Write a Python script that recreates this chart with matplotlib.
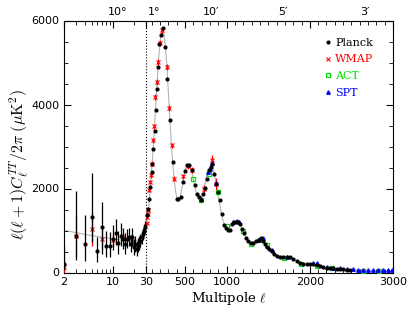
import numpy as np
import matplotlib
matplotlib.use("Agg")
import matplotlib.pyplot as plt
from matplotlib.lines import Line2D
import matplotlib.transforms as mtransforms

plt.rcParams['mathtext.fontset'] = 'cm'
plt.rcParams['font.family'] = ['DejaVu Sans']

# --- best-fit curve ---
theory_l = [2, 3, 4, 6, 8, 10, 15, 20, 25, 30, 40, 50, 60, 70, 80, 90, 100, 120, 140, 160,
            180, 200, 210, 220, 230, 240, 260, 280, 300, 320, 340, 360, 380, 400, 420, 440,
            460, 480, 500, 520, 540, 560, 580, 600, 620, 640, 660, 680, 700, 720, 740, 760,
            780, 800, 820, 840, 860, 880, 900, 920, 940, 960, 980, 1000, 1020, 1040, 1060,
            1080, 1100, 1120, 1140, 1160, 1180, 1200, 1220, 1240, 1260, 1280, 1300, 1320,
            1340, 1360, 1380, 1400, 1420, 1440, 1460, 1480, 1500, 1520, 1540, 1560, 1580,
            1600, 1640, 1680, 1720, 1760, 1800, 1840, 1880, 1920, 1960, 2000, 2040, 2080,
            2120, 2160, 2200, 2250, 2300, 2350, 2400, 2450, 2500, 2600, 2700, 2800, 2900, 3000]
theory_d = [1000, 950, 905, 860, 826, 800, 762, 740, 790, 960, 1200, 1350, 1520, 1720, 1960,
            2220, 2500, 3050, 3750, 4400, 5050, 5500, 5680, 5780, 5800, 5740, 5450, 4950, 4250,
            3550, 2900, 2400, 2000, 1780, 1710, 1790, 2000, 2250, 2450, 2560, 2580, 2520, 2400,
            2210, 2020, 1860, 1760, 1720, 1780, 1930, 2120, 2300, 2440, 2530, 2560, 2450, 2250,
            2030, 1800, 1580, 1380, 1200, 1090, 1040, 1040, 1070, 1130, 1180, 1200, 1210, 1190,
            1140, 1060, 960, 870, 790, 740, 710, 700, 705, 730, 765, 790, 800, 795, 765, 710,
            640, 580, 520, 470, 430, 400, 385, 370, 370, 365, 355, 325, 280, 235, 210, 200,
            198, 190, 175, 150, 128, 115, 105, 95, 85, 78, 70, 62, 52, 44, 38, 33, 30]

# --- Planck, low multipoles ---
planck_lo_l = [2, 3, 4, 5, 6, 7, 8, 9, 10, 11, 12, 13, 14, 15, 16, 17, 18, 19, 20, 21, 22,
               23, 24, 25, 26, 27, 28, 29]
planck_lo_d = [200, 860, 680, 1330, 510, 1080, 620, 620, 800, 950, 700, 880, 790, 680, 800,
               840, 680, 850, 600, 670, 560, 640, 700, 760, 840, 920, 1000, 1080]
planck_lo_dn = [150, 570, 400, 600, 250, 630, 250, 260, 260, 300, 250, 260, 240, 230, 220,
                220, 200, 210, 180, 180, 170, 160, 160, 150, 150, 140, 140, 130]
planck_lo_up = [450, 1090, 680, 1040, 330, 610, 360, 350, 320, 330, 300, 290, 260, 250, 240,
                230, 220, 220, 200, 190, 180, 170, 170, 160, 160, 150, 150, 140]

# --- Planck, binned high multipoles ---
planck_hi_l = [46, 58, 70, 82, 98, 106, 118, 134, 146, 162, 170, 186, 210, 230, 262, 287,
               319, 359, 399, 419, 447, 471, 495, 527, 551, 579, 615, 639, 663, 687, 711,
               735, 759, 783, 807, 827, 847, 871, 895, 919, 944, 968, 992, 1016, 1040, 1064,
               1088, 1112, 1136, 1160, 1184, 1208, 1232, 1260, 1288, 1320, 1352, 1384, 1416,
               1440, 1465, 1489, 1513, 1541, 1569, 1601, 1641, 1681, 1721, 1761, 1801, 1841,
               1881, 1921, 1962, 2001, 2041, 2081, 2122, 2162, 2202, 2242, 2282, 2322, 2362,
               2402, 2442, 2482]
planck_hi_d = [1360, 1520, 1755, 2030, 2390, 2590, 2950, 3380, 3860, 4375, 4890, 5450, 5645,
               5830, 5370, 4610, 3620, 2630, 1755, 1740, 1794, 2152, 2414, 2549, 2549, 2445,
               2072, 1874, 1794, 1731, 1874, 2017, 2231, 2430, 2509, 2588, 2350, 2112, 1913,
               1715, 1397, 1120, 1064, 1016, 1016, 1143, 1191, 1207, 1207, 1143, 1040, 937,
               826, 746, 699, 699, 746, 778, 810, 746, 683, 619, 556, 508, 429, 381, 365, 365,
               365, 365, 326, 270, 222, 206, 206, 206, 191, 175, 143, 127, 119, 111, 103, 95,
               87, 79, 71, 64]

# --- WMAP ---
wmap_l = [2, 3, 5, 7, 10, 14, 19, 23, 40, 46, 50, 55, 62, 78, 90, 98, 114, 126, 138, 158,
          174, 194, 222, 283, 311, 339, 367, 479, 531, 579, 727, 827, 871]
wmap_d = [120, 860, 1040, 800, 780, 840, 760, 640, 1170, 1320, 1400, 1500, 1953, 2152, 2310,
          2588, 3144, 3478, 4176, 4534, 5010, 5463, 5764, 4891, 3922, 3025, 2231, 2287, 2525,
          2445, 1993, 2668, 2112]
wmap_err = [120, 500, 400, 250, 150, 120, 100, 90, 40, 40, 40, 40, 45, 45, 50, 55, 60, 60, 65,
            70, 75, 80, 85, 80, 70, 60, 55, 55, 60, 70, 90, 130, 140]

# --- ACT ---
act_l = [591, 687, 791, 895, 1000, 1192, 1288, 1400, 1489, 1689, 1889, 2089, 2262, 2643, 2835]
act_d = [2231, 1715, 2350, 1913, 1096, 1000, 683, 762, 643, 349, 206, 159, 111, 24, 24]

# --- SPT ---
spt_l = [687, 775, 799, 827, 871, 1080, 1120, 1148, 1380, 1432, 1541, 1729, 2033, 2081, 2202,
         2282, 2362, 2442, 2522, 2582, 2642, 2702, 2762, 2823, 2883, 2943, 2983]
spt_d = [1755, 2390, 2469, 2604, 2136, 1199, 1223, 1199, 778, 826, 524, 365, 222, 222, 127,
         111, 103, 87, 79, 71, 71, 64, 60, 56, 56, 56, 56]

xticks = [2, 10, 30, 500, 1000, 2000, 3000]
top_pos = [11.9, 126, 811, 1677, 2662]
top_labels = ['10°', '1°', '10′', '5′', '3′']

# hybrid axis: log for l<30, linear above
A = 82 / 329.0

def fwd(x):
    x = np.asarray(x, float)
    lo = np.log10(np.clip(x, 1e-6, None) / 2) / np.log10(15) * A
    hi = A + (x - 30) / 2970.0 * (1 - A)
    return np.where(x < 30, lo, hi)

def inv(y):
    y = np.asarray(y, float)
    lo = 2 * 15 ** (np.clip(y, -5, A) / A)
    hi = 30 + (y - A) / (1 - A) * 2970.0
    return np.where(y < A, lo, hi)

fig = plt.figure(figsize=(4.15, 3.24), dpi=100)
ax = fig.add_axes([64 / 415, 51.5 / 324, 329 / 415, 252 / 324])
ax.set_xscale('function', functions=(fwd, inv))

ax.plot(theory_l, theory_d, color='0.7', lw=0.8, zorder=1)
ax.axvline(30, color='k', ls=':', lw=0.8, zorder=1)

ax.errorbar(wmap_l, wmap_d, yerr=wmap_err, fmt='x', color='red', ms=3, mew=0.8,
            elinewidth=0.9, capsize=0, zorder=3)
ax.errorbar(planck_lo_l, planck_lo_d, yerr=[planck_lo_dn, planck_lo_up], fmt='o', color='k',
            ms=2, elinewidth=0.9, capsize=0, zorder=4)
ax.plot(planck_hi_l, planck_hi_d, 'o', color='k', ms=2, zorder=4)
ax.plot(act_l, act_d, 's', mfc='none', mec='#00e000', ms=3, mew=0.9, zorder=3)
ax.plot(spt_l, spt_d, '^', color='blue', ms=2.5, zorder=3)

ax.set_xlim(2, 3000)
ax.set_ylim(0, 6000)
ax.set_xticks(xticks)
ax.set_xticklabels([str(t) for t in xticks])
minor = [3, 4, 5, 6, 7, 8, 9, 20] + [m for m in range(100, 3000, 100) if m not in xticks]
ax.set_xticks(minor, minor=True)
ax.set_yticks([0, 2000, 4000, 6000])
ax.set_yticks(np.arange(0, 6001, 500), minor=True)
ax.tick_params(which='both', direction='in', top=True, right=True, labelsize=8)
ax.tick_params(which='major', length=5)
ax.tick_params(which='minor', length=3)
for s in ax.spines.values():
    s.set_linewidth(0.8)

trans = mtransforms.blended_transform_factory(ax.transData, ax.transAxes)
for p, s in zip(top_pos, top_labels):
    ax.text(p, 1.015, s, transform=trans, ha='center', va='bottom', fontsize=8)

ax.set_xlabel(r'Multipole $\ell$', family='DejaVu Serif', fontsize=9.5, labelpad=2)
ax.set_ylabel(r'$\ell(\ell+1)C_\ell^{TT}/2\pi\ (\mu{\rm K}^2)$', fontsize=11.5)
ax.yaxis.set_label_coords(-0.1, 0.43)

handles = [
    Line2D([], [], ls='none', marker='o', color='k', ms=2, label='Planck'),
    Line2D([], [], ls='none', marker='x', color='red', ms=3, mew=0.8, label='WMAP'),
    Line2D([], [], ls='none', marker='s', mfc='none', mec='#00e000', color='#00e000', ms=3,
           mew=0.9, label='ACT'),
    Line2D([], [], ls='none', marker='^', color='blue', ms=2.5, label='SPT'),
]
leg = ax.legend(handles=handles, loc='upper left', bbox_to_anchor=(0.78, 0.95),
                frameon=False, handlelength=0.6, handletextpad=0.3, labelspacing=0.62,
                borderaxespad=0, prop={'family': 'DejaVu Serif', 'size': 8})
for t, c in zip(leg.get_texts(), ['k', 'red', '#00e000', 'blue']):
    t.set_color(c)

fig.savefig('out.png', dpi=100)
